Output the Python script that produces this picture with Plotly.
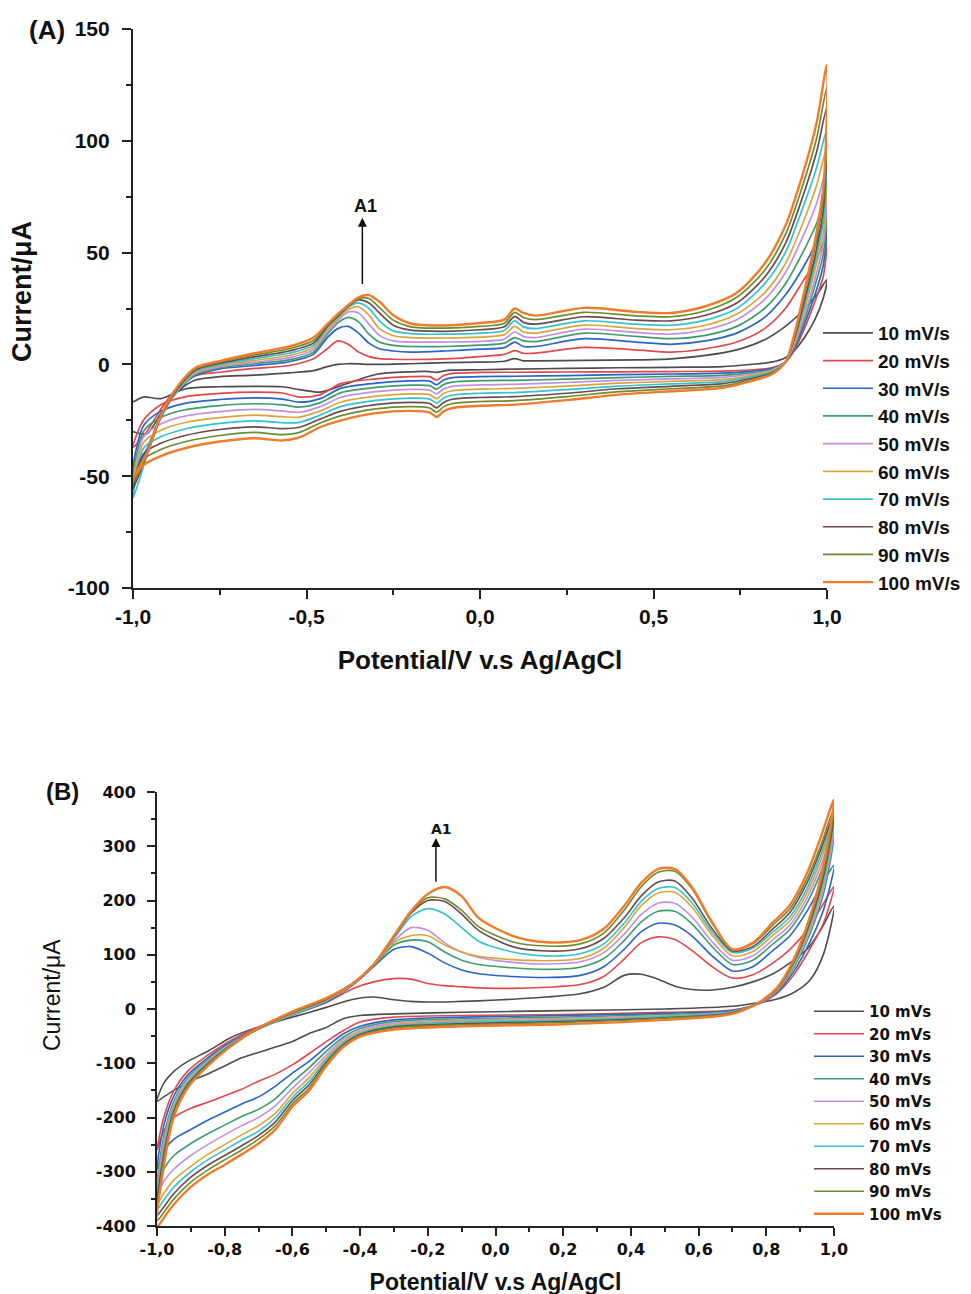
import plotly.graph_objects as go

RATES_A = ["10 mV/s", "20 mV/s", "30 mV/s", "40 mV/s", "50 mV/s",
           "60 mV/s", "70 mV/s", "80 mV/s", "90 mV/s", "100 mV/s"]
RATES_B = ["10 mVs", "20 mVs", "30 mVs", "40 mVs", "50 mVs",
           "60 mVs", "70 mVs", "80 mVs", "90 mVs", "100 mVs"]
COLORS = ['#4d4d4d', '#e2474b', '#2a64c8', '#3d9c6e', '#c48fe0',
          '#d9a53a', '#33c3cf', '#6b4a4f', '#6d8c2f', '#ef7b2b']

# ---------------- Panel A ----------------
A_FWD_X = [-1.0, -0.96, -0.92, -0.87, -0.82, -0.75, -0.65, -0.55, -0.48, -0.44, -0.41, -0.38, -0.35,
           -0.32, -0.29, -0.25, -0.2, -0.1, 0.0, 0.07, 0.1, 0.125, 0.16, 0.3, 0.45, 0.55, 0.65, 0.74,
           0.82, 0.88, 0.93, 0.97, 1.0]
A_FWD_Y = [
    [-30, -31, -22, -12, -7, -5.5, -4.8, -3.8, -2.8, -1, 0, 0.3, 0.2, 0, 0, 0.1, 0.3, 0.8, 1.0, 1.4, 2.6, 1.6, 1.6, 1.8, 2, 2.5, 4, 6.5, 11, 17, 24, 31, 38],
    [-37, -30, -20, -10, -5, -3.5, -1.8, -0.5, 2.5, 7, 10.5, 9, 5.5, 3.5, 2.6, 2.3, 2.2, 2.5, 3.5, 4.5, 6.2, 5, 5, 7.6, 6.5, 5.5, 7, 10, 16, 25, 37, 47, 58],
    [-48, -38, -23, -11.5, -5, -2, -0.5, 1.2, 4.5, 12, 16, 17, 14, 9.5, 7, 6, 5.5, 6, 6.8, 7.5, 10, 8, 8, 11.5, 10, 9, 10.5, 14, 21, 31, 43, 55, 68],
    [-52, -39, -23.5, -11.5, -4.5, -1.5, 0.3, 2, 5.5, 13.5, 18.5, 21, 19, 13.5, 10, 8.5, 8, 8, 8.6, 9.5, 12, 10.5, 10.2, 14, 12.5, 11.5, 13, 17, 25, 36, 50, 63, 78],
    [-55, -40, -24, -11.5, -4, -1, 1, 3, 6.5, 14.5, 19.5, 23.5, 23, 18, 13, 10.5, 10, 10, 10.3, 11.3, 14.5, 12.5, 12, 15.8, 14.3, 13.5, 15.5, 20, 29, 41, 57, 72, 88],
    [-54, -40, -24, -11, -3.5, -0.5, 1.8, 4, 7.5, 15.5, 20.5, 24.5, 25.8, 22, 16, 12.8, 12, 11.8, 12.2, 13.3, 17, 14.5, 14, 17.6, 16, 15.5, 17.5, 22.5, 32, 45, 63, 80, 97],
    [-60, -41, -24, -11, -3, 0, 2.6, 5, 8.5, 16.5, 21, 25.5, 27.5, 25, 19.5, 15, 13.8, 13.5, 14, 15.2, 19.5, 16.8, 16, 19.5, 18, 17.5, 19.8, 25, 36, 50, 70, 88, 105],
    [-56, -40, -23.5, -10.5, -2.5, 0.5, 3.4, 6, 9.5, 17, 21.5, 26, 28.8, 27.5, 23, 17.5, 15.3, 14.8, 15.5, 16.8, 21.5, 18.8, 18, 21.3, 19.8, 19.5, 22, 27.5, 39, 54, 75, 95, 115],
    [-53, -40, -23, -10, -2, 1, 4.2, 7, 10.7, 17.5, 22, 26.3, 29.5, 29.5, 25.5, 19.8, 16.8, 16.2, 17, 18.4, 23.3, 21, 20, 23.3, 21.7, 21.3, 24, 30, 42, 58, 80, 101, 124],
    [-51, -40, -23, -9.5, -1.5, 1.5, 5, 8, 12, 18, 22.5, 26.5, 30, 31, 28, 22, 18.3, 17.4, 18.5, 20, 25, 23, 21.8, 25.3, 23.5, 23, 26, 32, 45, 62, 85, 108, 134],
]
A_REV_X = [1.0, 0.99, 0.965, 0.935, 0.905, 0.88, 0.84, 0.78, 0.7, 0.55, 0.4, 0.25, 0.1, 0.0, -0.08,
           -0.105, -0.125, -0.145, -0.2, -0.3, -0.4, -0.46, -0.52, -0.57, -0.65, -0.75, -0.85, -0.92,
           -0.97, -1.0]
A_REV_Y = [
    [38, 30, 20, 12, 6, 3, 1, 0, -1, -1.3, -1.5, -1.8, -2.1, -2.4, -2.6, -3, -3.6, -3.2, -3.3, -4.5, -9.5, -12.4, -11.3, -10, -9.8, -10, -11, -15.3, -14.6, -16.8],
    [58, 40, 28, 16, 6, 1, -1.5, -2.5, -3, -3.2, -3.3, -3.4, -3.5, -3.6, -4, -5, -7, -5.5, -5.5, -6.5, -8.5, -13.5, -14.6, -12.8, -12.4, -13, -14.5, -18, -25, -37],
    [68, 45, 31, 18, 7, 1, -1.9, -3.1, -3.9, -4.3, -4.6, -5, -5.3, -5.5, -5.9, -7, -9.1, -7.5, -7.4, -8.4, -10.6, -15.3, -16.9, -15.5, -15, -15.7, -17.4, -20.9, -27.5, -48],
    [78, 50, 35, 20, 8, 1, -2.3, -3.8, -4.9, -5.4, -5.9, -6.6, -7.1, -7.3, -7.9, -9, -11.1, -9.5, -9.3, -10.3, -12.6, -17.1, -19.1, -18.1, -17.6, -18.4, -20.3, -23.8, -30, -52],
    [88, 55, 38, 22, 8.5, 1, -2.6, -4.4, -5.8, -6.5, -7.1, -8.1, -8.9, -9.2, -9.8, -11, -13.2, -11.5, -11.2, -12.2, -14.7, -18.9, -21.4, -20.8, -20.1, -21.1, -23.1, -26.6, -32.5, -55],
    [97, 60, 42, 24.5, 9.5, 1, -3, -5, -6.8, -7.6, -8.4, -9.7, -10.7, -11.1, -11.8, -13, -15.3, -13.5, -13.2, -14.2, -16.8, -20.8, -23.6, -23.4, -22.7, -23.8, -26, -29.5, -35, -54],
    [105, 65, 45, 26.5, 10.5, 1, -3.4, -5.6, -7.7, -8.7, -9.7, -11.3, -12.6, -12.9, -13.7, -15, -17.3, -15.5, -15.1, -16.1, -18.8, -22.6, -25.9, -26.1, -25.3, -26.4, -28.9, -32.4, -37.5, -60],
    [115, 70, 48, 28.5, 11, 1, -3.8, -6.3, -8.6, -9.8, -10.9, -12.9, -14.4, -14.8, -15.6, -17, -19.4, -17.5, -17, -18, -20.9, -24.4, -28.1, -28.7, -27.9, -29.1, -31.8, -35.3, -40, -56],
    [124, 75, 52, 31, 12, 1, -4.1, -6.9, -9.6, -10.9, -12.2, -14.4, -16.2, -16.6, -17.6, -19, -21.4, -19.5, -18.9, -19.9, -22.9, -26.2, -30.4, -31.4, -30.4, -31.8, -34.6, -38.1, -42.5, -53],
    [134, 80, 55, 33, 13, 1, -4.5, -7.5, -10.5, -12, -13.5, -16, -18, -18.5, -19.5, -21, -23.5, -21.5, -20.8, -21.8, -25, -28, -32.6, -34, -33, -34.5, -37.5, -41, -45, -51],
]

# ---------------- Panel B ----------------
B_FWD_X = [-1.0, -0.98, -0.95, -0.91, -0.85, -0.78, -0.7, -0.6, -0.5, -0.42, -0.36, -0.3, -0.25, -0.2,
           -0.15, -0.1, -0.05, 0.05, 0.15, 0.25, 0.32, 0.38, 0.43, 0.48, 0.53, 0.58, 0.64, 0.7, 0.76,
           0.82, 0.87, 0.92, 0.96, 1.0]
B_FWD_Y = [
    [-170, -137, -115, -97, -78, -52, -33, -15, 3, 18, 22, 17, 14, 13, 13, 14, 15, 18, 22, 28, 40, 62, 64, 55, 42, 36, 35, 40, 50, 65, 85, 110, 145, 190],
    [-260, -200, -150, -115, -85, -57, -33, -10, 12, 38, 50, 56, 55, 47, 43, 41, 39, 38, 40, 45, 60, 92, 122, 133, 128, 108, 78, 57, 63, 85, 110, 145, 185, 226],
    [-296, -215, -160, -122, -90, -60, -36, -11, 13, 45, 78, 110, 115, 103, 85, 72, 65, 60, 58, 62, 78, 110, 142, 158, 155, 135, 98, 70, 78, 108, 135, 180, 225, 265],
    [-328, -235, -170, -127, -93, -62, -37, -11, 14, 46, 80, 118, 127, 124, 105, 90, 82, 76, 73, 77, 93, 126, 160, 180, 180, 157, 115, 82, 90, 120, 147, 195, 250, 320],
    [-345, -245, -175, -130, -95, -63, -37, -10, 15, 47, 81, 125, 150, 145, 122, 105, 95, 86, 83, 87, 104, 138, 174, 195, 195, 170, 124, 90, 98, 128, 155, 205, 262, 335],
    [-360, -255, -180, -134, -97, -64, -37, -9, 16, 47, 81, 122, 135, 135, 118, 105, 97, 91, 89, 93, 112, 150, 190, 214, 215, 188, 136, 98, 106, 136, 163, 214, 273, 345],
    [-370, -262, -184, -137, -99, -65, -37, -8, 17, 48, 82, 130, 170, 185, 175, 150, 125, 105, 98, 102, 120, 158, 198, 222, 224, 196, 142, 104, 112, 142, 170, 222, 282, 352],
    [-380, -270, -188, -140, -101, -66, -36, -7, 18, 48, 82, 133, 176, 200, 198, 175, 145, 115, 107, 111, 130, 168, 208, 234, 236, 205, 148, 107, 115, 148, 178, 232, 292, 360],
    [-390, -280, -192, -143, -103, -67, -36, -6, 19, 48, 82, 134, 178, 205, 203, 182, 152, 124, 116, 120, 140, 182, 225, 252, 254, 222, 158, 110, 120, 155, 185, 240, 300, 370],
    [-402, -290, -198, -146, -105, -68, -35, -5, 20, 48, 82, 135, 180, 212, 225, 208, 168, 135, 123, 127, 148, 190, 232, 258, 258, 225, 160, 110, 122, 160, 192, 250, 315, 386],
]
B_REV_X = [1.0, 0.97, 0.93, 0.88, 0.83, 0.78, 0.7, 0.5, 0.2, -0.1, -0.3, -0.4, -0.45, -0.5, -0.55, -0.6,
           -0.65, -0.7, -0.75, -0.8, -0.85, -0.9, -0.95, -0.98, -1.0]
B_REV_Y = [
    [190, 103, 54, 30, 18, 12, 5, 0, -3, -6, -9, -12, -18, -34, -45, -60, -70, -80, -90, -105, -120, -133, -150, -162, -170],
    [226, 160, 112, 62, 28, 10, -2, -6, -10, -12, -15, -24, -40, -60, -82, -103, -120, -133, -148, -160, -172, -183, -200, -225, -260],
    [265, 185, 125, 68, 30, 11, -3, -8, -12, -15, -20, -32, -46, -70, -96, -118, -142, -162, -175, -190, -205, -222, -240, -262, -296],
    [320, 215, 140, 75, 32, 11, -4, -10, -15, -18, -23, -36, -52, -78, -108, -135, -165, -185, -198, -214, -230, -248, -270, -295, -328],
    [335, 225, 147, 78, 33, 11, -5, -12, -17, -20, -26, -40, -56, -85, -117, -146, -178, -200, -215, -232, -250, -270, -295, -318, -345],
    [345, 235, 152, 80, 34, 12, -6, -13, -19, -22, -29, -43, -60, -90, -126, -156, -192, -215, -232, -250, -268, -290, -315, -340, -360],
    [352, 240, 157, 83, 35, 12, -6, -14, -21, -24, -31, -45, -63, -94, -133, -163, -200, -225, -242, -260, -278, -300, -328, -352, -370],
    [360, 248, 162, 85, 36, 12, -7, -16, -23, -27, -33, -47, -66, -98, -139, -169, -208, -233, -252, -270, -288, -310, -340, -365, -380],
    [370, 256, 167, 87, 37, 12, -8, -17, -25, -29, -35, -49, -68, -101, -145, -175, -215, -240, -260, -278, -297, -319, -350, -375, -390],
    [386, 268, 172, 90, 38, 13, -9, -20, -28, -32, -38, -51, -70, -105, -150, -180, -222, -248, -268, -287, -305, -328, -360, -385, -402],
]

A_XTICKS = [-1.0, -0.5, 0.0, 0.5, 1.0]
A_XTICK_TEXT = ["-1,0", "-0,5", "0,0", "0,5", "1,0"]
A_YTICKS = [-100, -50, 0, 50, 100, 150]
A_YTICK_TEXT = ["-100", "-50", "0", "50", "100", "150"]
B_XTICKS = [-1.0, -0.8, -0.6, -0.4, -0.2, 0.0, 0.2, 0.4, 0.6, 0.8, 1.0]
B_XTICK_TEXT = ["-1,0", "-0,8", "-0,6", "-0,4", "-0,2", "0,0", "0,2", "0,4", "0,6", "0,8", "1,0"]
B_YTICKS = [-400, -300, -200, -100, 0, 100, 200, 300, 400]
B_YTICK_TEXT = ["-400", "-300", "-200", "-100", "0", "100", "200", "300", "400"]

ARIAL = "Liberation Sans, Arial, sans-serif"
VERD = "DejaVu Sans, Verdana, sans-serif"

# page body has an 8px margin: convert screen pixels to paper fractions
W, H, OFF = 971, 1294, 8


def px(v):
    return (v - OFF) / W


def py(v):
    return 1 - (v - OFF) / H


fig = go.Figure()

for i in range(10):
    w = 2.4 if i == 9 else 1.7
    fig.add_trace(go.Scatter(
        x=A_FWD_X + A_REV_X[1:], y=A_FWD_Y[i] + A_REV_Y[i][1:],
        mode="lines", name=RATES_A[i], legend="legend",
        line=dict(color=COLORS[i], width=w, shape="spline", smoothing=0.8),
        xaxis="x", yaxis="y"))
for i in range(10):
    w = 2.4 if i == 9 else 1.6
    fig.add_trace(go.Scatter(
        x=B_FWD_X + B_REV_X[1:], y=B_FWD_Y[i] + B_REV_Y[i][1:],
        mode="lines", name=RATES_B[i], legend="legend2",
        line=dict(color=COLORS[i], width=w, shape="spline", smoothing=0.8),
        xaxis="x2", yaxis="y2"))

axis_common = dict(showline=True, linecolor="#222", showgrid=False, zeroline=False,
                   ticks="outside", tickcolor="#222", mirror=False, automargin=False)

fig.update_layout(
    width=W, height=H, autosize=False,
    margin=dict(l=0, r=0, t=0, b=0),
    paper_bgcolor="white", plot_bgcolor="white",
    xaxis=dict(domain=[px(133), px(827)], range=[-1.0, 1.0], anchor="y",
               tickvals=A_XTICKS, ticktext=A_XTICK_TEXT, linewidth=2.2, ticklen=9, tickwidth=2.2,
               ticklabelstandoff=0,
               minor=dict(ticks="outside", ticklen=5, tickwidth=2, tickcolor="#222",
                          tickvals=[-0.75, -0.25, 0.25, 0.75]),
               tickfont=dict(family=ARIAL, size=21, color="#111", weight="bold"),
               title=dict(text="Potential/V v.s Ag/AgCl", standoff=24,
                          font=dict(family=ARIAL, size=26, color="#111", weight="bold")),
               **axis_common),
    yaxis=dict(domain=[py(588), py(29)], range=[-100, 150], anchor="x",
               tickvals=A_YTICKS, ticktext=A_YTICK_TEXT, linewidth=2.2, ticklen=9, tickwidth=2.2,
               ticklabelstandoff=8,
               minor=dict(ticks="outside", ticklen=5, tickwidth=2, tickcolor="#222",
                          tickvals=[-75, -25, 25, 75, 125]),
               tickfont=dict(family=ARIAL, size=21, color="#111", weight="bold"),
               **axis_common),
    xaxis2=dict(domain=[px(157), px(834)], range=[-1.0, 1.0], anchor="y2",
                tickvals=B_XTICKS, ticktext=B_XTICK_TEXT, linewidth=2, ticklen=8, tickwidth=2,
                ticklabelstandoff=0,
                minor=dict(ticks="outside", ticklen=4, tickwidth=1.6, tickcolor="#222",
                           tickvals=[-0.9, -0.7, -0.5, -0.3, -0.1, 0.1, 0.3, 0.5, 0.7, 0.9]),
                tickfont=dict(family=VERD, size=16, color="#111", weight="bold"),
                title=dict(text="Potential/V v.s Ag/AgCl", standoff=16,
                           font=dict(family=ARIAL, size=23, color="#111", weight="bold")),
                **axis_common),
    yaxis2=dict(domain=[py(1226), py(792)], range=[-400, 400], anchor="x2",
                tickvals=B_YTICKS, ticktext=B_YTICK_TEXT, linewidth=2, ticklen=8, tickwidth=2,
                ticklabelstandoff=8,
                minor=dict(ticks="outside", ticklen=4, tickwidth=1.6, tickcolor="#222",
                           tickvals=[-350, -250, -150, -50, 50, 150, 250, 350]),
                tickfont=dict(family=VERD, size=16, color="#111", weight="bold"),
                **axis_common),
    legend=dict(x=px(818), y=py(314), xanchor="left", yanchor="top", itemwidth=50,
                bgcolor="rgba(0,0,0,0)", borderwidth=0, tracegroupgap=0,
                font=dict(family=ARIAL, size=19, color="#111", weight="bold")),
    legend2=dict(x=px(809), y=py(995), xanchor="left", yanchor="top", itemwidth=50,
                 bgcolor="rgba(0,0,0,0)", borderwidth=0, tracegroupgap=0,
                 font=dict(family=VERD, size=15, color="#111", weight="bold")),
    annotations=[
        dict(text="Current/μA", x=px(22), y=py(292), xref="paper", yref="paper",
             textangle=-90, showarrow=False, xanchor="center", yanchor="middle",
             font=dict(family=ARIAL, size=27, color="#111", weight="bold")),
        dict(text="Current/μA", x=px(52), y=py(995), xref="paper", yref="paper",
             textangle=-90, showarrow=False, xanchor="center", yanchor="middle",
             font=dict(family=ARIAL, size=23, color="#111")),
        dict(text="(A)", x=px(47), y=py(30), xref="paper", yref="paper",
             xanchor="center", yanchor="middle",
             showarrow=False, font=dict(family=ARIAL, size=26, color="#111", weight="bold")),
        dict(text="(B)", x=px(62), y=py(791), xref="paper", yref="paper",
             xanchor="center", yanchor="middle",
             showarrow=False, font=dict(family=ARIAL, size=24, color="#111", weight="bold")),
        dict(text="A1", x=-0.33, y=71, xref="x", yref="y", showarrow=False,
             font=dict(family=ARIAL, size=18, color="#111", weight="bold")),
        dict(text="", x=-0.339, y=65.6, ax=-0.339, ay=35.3, xref="x", yref="y",
             axref="x", ayref="y", showarrow=True, arrowhead=2, arrowsize=1.2,
             arrowwidth=1.5, arrowcolor="#111"),
        dict(text="A1", x=-0.161, y=332, xref="x2", yref="y2", showarrow=False,
             font=dict(family=VERD, size=14, color="#111", weight="bold")),
        dict(text="", x=-0.176, y=315, ax=-0.176, ay=232, xref="x2", yref="y2",
             axref="x2", ayref="y2", showarrow=True, arrowhead=2, arrowsize=1.2,
             arrowwidth=1.5, arrowcolor="#111"),
    ],
)

fig.write_html("out.html")
